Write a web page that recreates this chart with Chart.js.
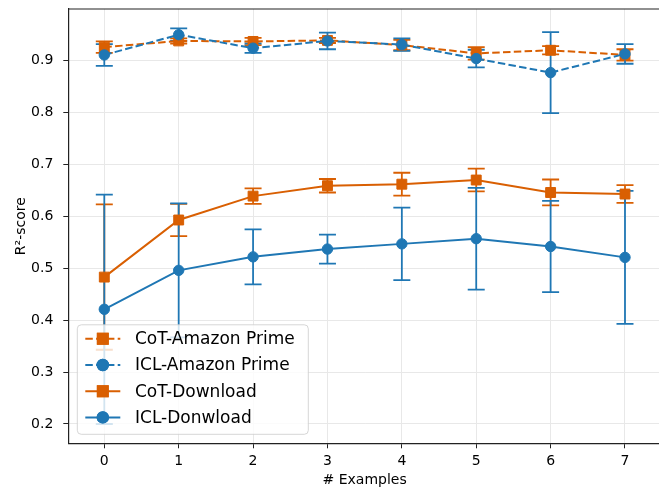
<!DOCTYPE html>
<html>
<head>
<meta charset="utf-8">
<script src="https://cdn.jsdelivr.net/npm/chart.js@4.4.0/dist/chart.umd.min.js"></script>
<style>
  html, body { margin: 0; padding: 0; background: #fff; overflow: hidden; }
  #wrap { width: 680px; height: 489px; }
</style>
</head>
<body>
<div id="wrap"><canvas id="chart" width="680" height="489"></canvas></div>
<script>
const examples = [0, 1, 2, 3, 4, 5, 6, 7];
const yTicks = [0.2, 0.3, 0.4, 0.5, 0.6, 0.7, 0.8, 0.9];

const cotAmazon = [0.926, 0.938, 0.937, 0.939, 0.930, 0.914, 0.920, 0.911];
const cotAmazonErr = [0.011, 0.005, 0.007, 0.005, 0.010, 0.012, 0.008, 0.011];
const iclAmazon = [0.911, 0.950, 0.924, 0.938, 0.931, 0.904, 0.877, 0.913];
const iclAmazonErr = [0.021, 0.012, 0.009, 0.016, 0.012, 0.017, 0.078, 0.019];
const cotDownload = [0.483, 0.593, 0.639, 0.659, 0.662, 0.670, 0.646, 0.643];
const cotDownloadErr = [0.140, 0.031, 0.015, 0.013, 0.022, 0.022, 0.025, 0.017];
const iclDownload = [0.421, 0.496, 0.522, 0.537, 0.547, 0.557, 0.542, 0.521];
const iclDownloadErr = [0.221, 0.129, 0.053, 0.028, 0.070, 0.098, 0.088, 0.128];

const ORANGE = '#d95f02';
const BLUE = '#1f77b4';
const FONT = 'DejaVu Sans';

function series(label, values, errs, color, dashed, style, order) {
    const r = style === 'rect' ? 7 : 5.2;
    return {
        label,
        data: values.map((v, i) => ({ x: examples[i], y: v })),
        errors: errs,
        borderColor: color,
        backgroundColor: color,
        borderWidth: 2,
        borderDash: dashed ? [7.5, 3.3] : [],
        pointStyle: style,
        pointRadius: r,
        pointBorderWidth: 1,
        pointHoverRadius: r,
        tension: 0,
        order
    };
}

// error bars for every series, drawn under the lines and markers
const errorBars = {
    id: 'errorBars',
    beforeDatasetsDraw(chart) {
        const ctx = chart.ctx;
        const y = chart.scales.y;
        const a = chart.chartArea;
        ctx.save();
        ctx.beginPath();
        ctx.rect(a.left, a.top, a.right - a.left, a.bottom - a.top);
        ctx.clip();
        chart.data.datasets.forEach((ds, i) => {
            const meta = chart.getDatasetMeta(i);
            ctx.strokeStyle = ds.borderColor;
            ctx.lineWidth = 1.8;
            ctx.setLineDash([]);
            meta.data.forEach((pt, j) => {
                const top = y.getPixelForValue(ds.data[j].y + ds.errors[j]);
                const bot = y.getPixelForValue(ds.data[j].y - ds.errors[j]);
                ctx.beginPath();
                ctx.moveTo(pt.x, top);
                ctx.lineTo(pt.x, bot);
                ctx.moveTo(pt.x - 8.5, top);
                ctx.lineTo(pt.x + 8.5, top);
                ctx.moveTo(pt.x - 8.5, bot);
                ctx.lineTo(pt.x + 8.5, bot);
                ctx.stroke();
            });
        });
        ctx.restore();
    }
};

// top spine + legend box in the lower left corner
const frameAndLegend = {
    id: 'frameAndLegend',
    afterDraw(chart) {
        const ctx = chart.ctx;
        const a = chart.chartArea;
        ctx.save();
        ctx.strokeStyle = '#222';
        ctx.lineWidth = 1.2;
        ctx.beginPath();
        ctx.moveTo(a.left, a.top);
        ctx.lineTo(a.right, a.top);
        ctx.stroke();

        const x0 = a.left + 9, y1 = a.bottom - 9;
        const w = 231, h = 109.5, y0 = y1 - h;
        ctx.beginPath();
        ctx.roundRect(x0, y0, w, h, 4);
        ctx.fillStyle = 'rgba(255,255,255,0.8)';
        ctx.fill();
        ctx.strokeStyle = 'rgba(204,204,204,0.8)';
        ctx.lineWidth = 1;
        ctx.stroke();

        chart.data.datasets.forEach((ds, i) => {
            const cy = y0 + 14 + i * 26.2;
            ctx.strokeStyle = ds.borderColor;
            ctx.lineWidth = 2;
            ctx.setLineDash(ds.borderDash);
            ctx.beginPath();
            ctx.moveTo(x0 + 8, cy);
            ctx.lineTo(x0 + 43, cy);
            ctx.stroke();
            ctx.setLineDash([]);
            Chart.helpers.drawPoint(ctx, {
                pointStyle: ds.pointStyle,
                radius: ds.pointRadius,
                borderWidth: 1,
                rotation: 0
            }, x0 + 25.5, cy);
            ctx.fillStyle = ds.borderColor;
            ctx.fill();
            ctx.stroke();
            ctx.fillStyle = '#000';
            ctx.font = '17px "' + FONT + '"';
            ctx.textBaseline = 'middle';
            ctx.textAlign = 'left';
            ctx.fillText(ds.label, x0 + 57.7, cy + 1);
        });
        ctx.restore();
    }
};

// right padding puts the plot's right edge at x = 661, just past the visible 659px,
// as in the original figure which is cut before its right spine
new Chart(document.getElementById('chart'), {
    type: 'line',
    data: {
        datasets: [
            series('CoT-Amazon Prime', cotAmazon, cotAmazonErr, ORANGE, true, 'rect', 4),
            series('ICL-Amazon Prime', iclAmazon, iclAmazonErr, BLUE, true, 'circle', 3),
            series('CoT-Download', cotDownload, cotDownloadErr, ORANGE, false, 'rect', 2),
            series('ICL-Donwload', iclDownload, iclDownloadErr, BLUE, false, 'circle', 1)
        ]
    },
    options: {
        responsive: false,
        animation: false,
        layout: { padding: { top: 9, right: 19, left: 0, bottom: 0 } },
        plugins: {
            legend: { display: false },
            tooltip: { enabled: false }
        },
        scales: {
            x: {
                type: 'linear',
                min: -0.484,
                max: 7.484,
                afterBuildTicks: s => { s.ticks = examples.map(v => ({ value: v })); },
                afterFit: s => {
                    s.height = 45.7;
                    s.paddingLeft = 0; s.paddingRight = 0;
                },
                grid: { color: '#e8e8e8', lineWidth: 1, tickColor: '#222', tickLength: 5, tickWidth: 1 },
                border: { display: true, color: '#222', width: 1.2 },
                ticks: { color: '#000', padding: 5, font: { family: FONT, size: 14 }, callback: v => String(v) },
                title: { display: true, text: '# Examples', color: '#000', font: { family: FONT, size: 14 }, padding: { top: 0, bottom: 0 } }
            },
            y: {
                min: 0.1628,
                max: 0.9995,
                afterBuildTicks: s => { s.ticks = yTicks.map(v => ({ value: v })); },
                afterFit: s => {
                    s.width = 68.3;
                    s.paddingTop = 0; s.paddingBottom = 0;
                },
                grid: { color: '#e8e8e8', lineWidth: 1, tickColor: '#222', tickLength: 5, tickWidth: 1 },
                border: { display: true, color: '#222', width: 1.2 },
                ticks: { color: '#000', padding: 10, font: { family: FONT, size: 14 }, callback: v => v.toFixed(1) },
                title: { display: true, text: 'R²-score', color: '#000', font: { family: FONT, size: 14 }, padding: { top: 13, bottom: 0 } }
            }
        }
    },
    plugins: [errorBars, frameAndLegend]
});
</script>
</body>
</html>
